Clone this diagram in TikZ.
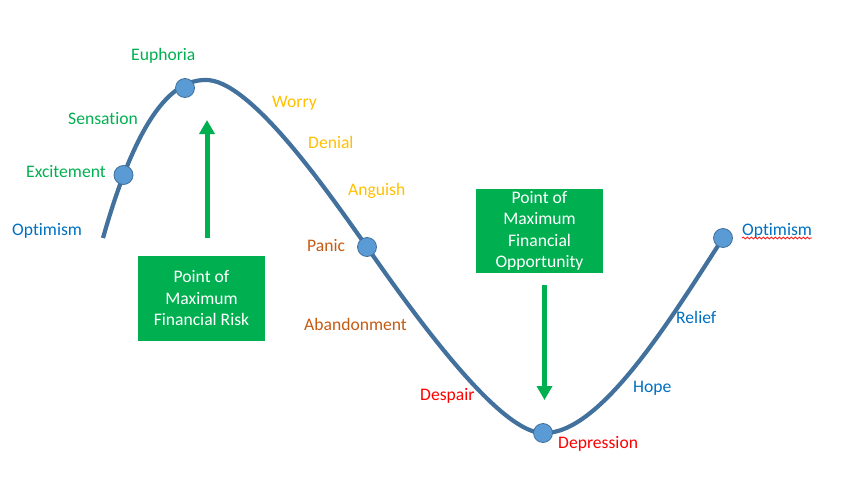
\documentclass[tikz,border=0pt]{standalone}
\usepackage{fontspec}
\setmainfont[Ligatures=NoCommon]{Carlito}
\usetikzlibrary{arrows.meta,decorations.pathmorphing}
\definecolor{curveblue}{RGB}{65,113,156}
\definecolor{dotblue}{RGB}{91,155,213}
\definecolor{mygreen}{RGB}{0,176,80}
\definecolor{myblue}{RGB}{0,112,192}
\definecolor{mygold}{RGB}{255,192,0}
\definecolor{myorange}{RGB}{197,90,17}
\definecolor{myred}{RGB}{255,0,0}
\begin{document}
\begin{tikzpicture}[x=1pt,y=-1pt,
  lbl/.style={anchor=base west,inner sep=0pt,font=\fontsize{17.6}{20}\selectfont},
  dotnode/.style={circle,fill=dotblue,draw=curveblue,line width=0.8pt,minimum size=19pt,inner sep=0pt},
  gbox/.style={fill=mygreen,text=white,minimum width=127pt,align=center,inner sep=0pt,
     font=\fontsize{17.6}{21.5}\selectfont},
  garrow/.style={draw=mygreen,line width=5pt,-{Triangle[width=15pt,length=14pt]}}]
\useasboundingbox (0,0) rectangle (846,495);
% curve
\draw[curveblue,line width=4.2pt]
  (103,238) .. controls (128,150) and (160,80) .. (205,80)
  .. controls (250,78) and (330,195) .. (367,247)
  .. controls (435,345) and (505,433) .. (543,433)
  .. controls (600,435) and (670,320) .. (723,238);
% dots
\node[dotnode] (exc) at (123.5,175) {};
\node[dotnode] (eup) at (185,88) {};
\node[dotnode] (pan) at (367,247) {};
\node[dotnode] (dep) at (543,433) {};
\node[dotnode] (opt) at (723,238) {};
% boxes
\node[gbox,minimum height=85pt] (risk) at (201.5,298.5) {Point of\\Maximum\\Financial Risk};
\node[gbox,minimum height=84pt] (opp) at (539.5,231) {Point of\\Maximum\\Financial\\Opportunity};
% arrows
\coordinate (a1s) at (207,238);
\coordinate (a1e) at (207,120);
\coordinate (a2s) at (544.5,285);
\coordinate (a2e) at (544.5,400);
\draw[garrow] (a1s) -- (a1e);
\draw[garrow] (a2s) -- (a2e);
% labels
\node[lbl,text=myblue] (l1) at (12,235) {Optimism};
\node[lbl,text=mygreen] (l2) at (26,177) {Excitement};
\node[lbl,text=mygreen] (l3) at (68,124) {Sensation};
\node[lbl,text=mygreen] (l4) at (131,61) {Euphoria};
\node[lbl,text=mygold] (l5) at (272,107) {Worry};
\node[lbl,text=mygold] (l6) at (308,148) {Denial};
\node[lbl,text=mygold] (l7) at (348,195) {Anguish};
\node[lbl,text=myorange] (l8) at (307,251) {Panic};
\node[lbl,text=myorange] (l9) at (304,330) {Abandonment};
\node[lbl,text=myred] (l10) at (420,400) {Despair};
\node[lbl,text=myred] (l11) at (558,448) {Depression};
\node[lbl,text=myblue] (l12) at (633,392) {Hope};
\node[lbl,text=myblue] (l13) at (676,323) {Relief};
\node[lbl,text=myblue] (l14) at (742,235) {Optimism};
\draw[myred,line width=0.7pt,decorate,decoration={snake,amplitude=1pt,segment length=4pt}]
  (l14.base west) ++(0,3) -- (l14.base east |- 0,238);
\end{tikzpicture}
\end{document}
